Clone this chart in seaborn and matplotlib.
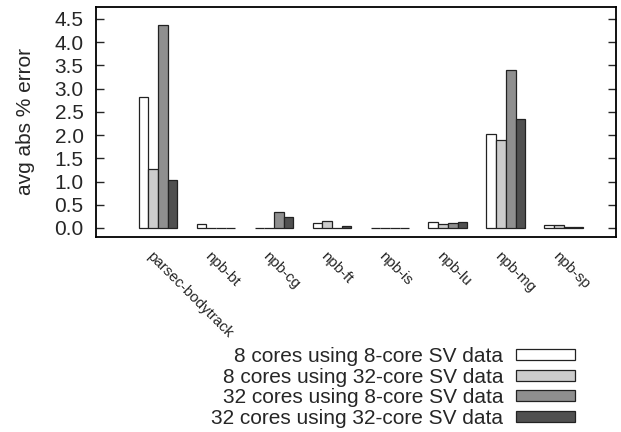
import matplotlib
matplotlib.use("Agg")
import matplotlib.pyplot as plt
import matplotlib.transforms as mtrans
import seaborn as sb
import pandas as pd

benchmarks = ["parsec-bodytrack", "npb-bt", "npb-cg", "npb-ft", "npb-is", "npb-lu", "npb-mg", "npb-sp"]
series = ["8 cores using 8-core SV data", "8 cores using 32-core SV data",
          "32 cores using 8-core SV data", "32 cores using 32-core SV data"]

err_8_8 = [2.82, 0.08, 0.01, 0.10, 0.005, 0.12, 2.02, 0.06]
err_8_32 = [1.28, 0.01, 0.005, 0.16, 0.005, 0.09, 1.90, 0.06]
err_32_8 = [4.37, 0.01, 0.34, 0.005, 0.005, 0.10, 3.40, 0.02]
err_32_32 = [1.03, 0.005, 0.24, 0.04, 0.005, 0.13, 2.35, 0.02]

colors = ["#ffffff", "#cccccc", "#8f8f8f", "#505050"]

rows = []
for name, vals in zip(series, [err_8_8, err_8_32, err_32_8, err_32_32]):
    for b, v in zip(benchmarks, vals):
        rows.append({"benchmark": b, "series": name, "error": v})
df = pd.DataFrame(rows)

sb.set_style("ticks")
plt.rcParams["font.family"] = ["Liberation Sans", "DejaVu Sans"]

fig = plt.figure(figsize = (6.21, 4.32), dpi = 100)
ax = fig.add_axes([0.1546, 0.4514, 0.8374, 0.5326])

sb.barplot(data = df, x = "benchmark", y = "error", hue = "series", order = benchmarks,
           hue_order = series, palette = colors, width = 0.67, gap = 0,
           edgecolor = "#222222", linewidth = 0.9, saturation = 1, ax = ax)

ax.set_xlim(-1.07, 7.9)
ax.set_ylim(-0.194, 4.758)
ax.set_yticks([0, 0.5, 1.0, 1.5, 2.0, 2.5, 3.0, 3.5, 4.0, 4.5])
ax.set_yticklabels(["0.0", "0.5", "1.0", "1.5", "2.0", "2.5", "3.0", "3.5", "4.0", "4.5"])
ax.tick_params(axis = "y", direction = "in", right = True, length = 6, labelsize = 15, width = 1, pad = 9)
ax.tick_params(axis = "x", length = 0, labelsize = 10.8, pad = 9)
shift = mtrans.ScaledTranslation(-4 / 100, 0, fig.dpi_scale_trans)
for lbl in ax.get_xticklabels():
    lbl.set_rotation(-45)
    lbl.set_ha("left")
    lbl.set_va("top")
    lbl.set_rotation_mode("anchor")
    lbl.set_transform(lbl.get_transform() + shift)
ax.set_xlabel("")
ax.set_ylabel("avg abs % error", fontsize = 15, labelpad = 14)
for sp in ax.spines.values():
    sp.set_linewidth(1.3)
    sp.set_color("black")

handles, labels = ax.get_legend_handles_labels()
ax.get_legend().remove()
fig.legend(handles, labels, loc = "upper right", bbox_to_anchor = (0.926, 0.197),
           frameon = False, markerfirst = False, fontsize = 15, borderpad = 0, borderaxespad = 0,
           handlelength = 2.85, handleheight = 0.45, labelspacing = 0.08, handletextpad = 0.6)

plt.savefig("out.png", dpi = 100)
